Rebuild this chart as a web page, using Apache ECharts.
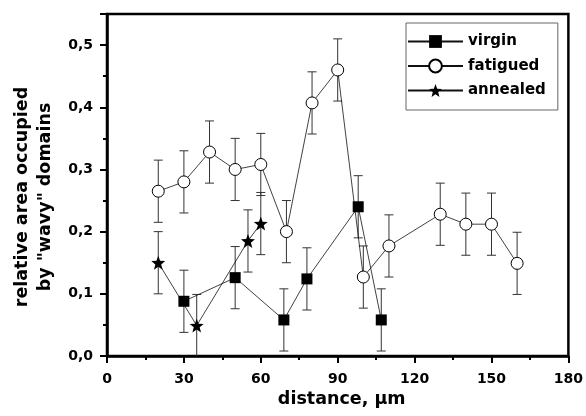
<!DOCTYPE html>
<html><head><meta charset="utf-8">
<script src="https://cdn.jsdelivr.net/npm/echarts@6/dist/echarts.min.js"></script>
<style>html,body{margin:0;padding:0;background:#fff}#c{width:586px;height:416px}</style>
</head><body><div id="c"></div>
<script>
// ---- data ----
const virginX   = [30, 50, 69, 78, 98, 107];
const virginY   = [0.088, 0.126, 0.058, 0.124, 0.240, 0.058];
const virginErr = [0.05, 0.05, 0.05, 0.05, 0.05, 0.05];

const fatiguedX   = [20, 30, 40, 50, 60, 70, 80, 90, 100, 110, 130, 140, 150, 160];
const fatiguedY   = [0.265, 0.280, 0.328, 0.300, 0.308, 0.200, 0.407, 0.460, 0.127, 0.177, 0.228, 0.212, 0.212, 0.149];
const fatiguedErr = [0.05, 0.05, 0.05, 0.05, 0.05, 0.05, 0.05, 0.05, 0.05, 0.05, 0.05, 0.05, 0.05, 0.05];

const annealedX   = [20, 35, 55, 60];
const annealedY   = [0.150, 0.049, 0.185, 0.213];
const annealedErr = [0.05, 0.05, 0.05, 0.05];

const seriesNames = ['virgin', 'fatigued', 'annealed'];
const xTicks = [0, 30, 60, 90, 120, 150, 180];
const yTicks = [0.0, 0.1, 0.2, 0.3, 0.4, 0.5];
const xTitle = 'distance, μm';
const yTitle = 'relative area occupied\nby "wavy" domains';

// ---- helpers ----
function pairs(xs, ys) { return xs.map((x, i) => [x, ys[i]]); }
function errData(xs, ys, es) { return xs.map((x, i) => [x, ys[i], es[i]]); }

function starPath() {
  let pts = [];
  for (let i = 0; i < 10; i++) {
    const r = i % 2 === 0 ? 50 : 21;
    const a = -Math.PI / 2 + i * Math.PI / 5;
    pts.push((50 + r * Math.cos(a)).toFixed(2) + ',' + (50 + r * Math.sin(a)).toFixed(2));
  }
  return 'path://M' + pts.join('L') + 'Z';
}

const FONT = '"DejaVu Sans", Verdana, sans-serif';

function errorSeries(data) {
  return {
    type: 'custom',
    silent: true,
    z: 1,
    renderItem: function (params, api) {
      const x = api.value(0), y = api.value(1), e = api.value(2);
      const hi = api.coord([x, y + e]);
      const lo = api.coord([x, y - e]);
      const cap = 4.5;
      const style = { stroke: '#333', lineWidth: 1 };
      return {
        type: 'group',
        children: [
          { type: 'line', shape: { x1: hi[0], y1: hi[1], x2: lo[0], y2: lo[1] }, style: style },
          { type: 'line', shape: { x1: hi[0] - cap, y1: hi[1], x2: hi[0] + cap, y2: hi[1] }, style: style },
          { type: 'line', shape: { x1: lo[0] - cap, y1: lo[1], x2: lo[0] + cap, y2: lo[1] }, style: style }
        ]
      };
    },
    data: data,
    encode: { x: 0, y: 1 },
    clip: true
  };
}

const chart = echarts.init(document.getElementById('c'), null, { renderer: 'canvas' });
chart.setOption({
  animation: false,
  backgroundColor: '#fff',
  grid: { left: 107, right: 16, top: 14, bottom: 60, show: true, borderColor: '#000', borderWidth: 2.5, containLabel: false },
  legend: {
    data: seriesNames,
    orient: 'vertical',
    left: 406, top: 23,
    itemWidth: 55, itemHeight: 16, itemGap: 9.5,
    padding: [11, 12, 12, 1],
    borderColor: '#666', borderWidth: 1,
    backgroundColor: '#fff',
    textStyle: { fontFamily: FONT, fontWeight: 'bold', fontSize: 15, color: '#000' }
  },
  graphic: [{
    type: 'text',
    x: 34, y: 197,
    rotation: Math.PI / 2,
    style: {
      text: yTitle,
      fontFamily: FONT, fontWeight: 'bold', fontSize: 17.5, lineHeight: 23,
      fill: '#000', align: 'center', verticalAlign: 'middle'
    }
  }],
  xAxis: {
    type: 'value', min: xTicks[0], max: xTicks[xTicks.length - 1], interval: 30,
    name: xTitle, nameLocation: 'middle', nameGap: 31,
    nameTextStyle: { fontFamily: FONT, fontWeight: 'bold', fontSize: 17.5, color: '#000', padding: [0, 0, 0, 8] },
    axisLine: { show: true, lineStyle: { color: '#000', width: 2.5 } },
    axisTick: { show: true, inside: false, length: 7, lineStyle: { color: '#000', width: 2 } },
    minorTick: { show: true, splitNumber: 2, length: 4, lineStyle: { color: '#000', width: 2 } },
    axisLabel: { fontFamily: FONT, fontWeight: 'bold', fontSize: 14, color: '#000', margin: 16 },
    splitLine: { show: false }
  },
  yAxis: {
    type: 'value', min: yTicks[0], max: 0.55, interval: 0.1,
    axisLine: { show: true, lineStyle: { color: '#000', width: 2.5 } },
    axisTick: { show: true, inside: false, length: 7, lineStyle: { color: '#000', width: 2 } },
    minorTick: { show: true, splitNumber: 2, length: 4, lineStyle: { color: '#000', width: 2 } },
    axisLabel: {
      fontFamily: FONT, fontWeight: 'bold', fontSize: 14, color: '#000', margin: 14,
      showMaxLabel: false,
      formatter: function (v) { return v > yTicks[yTicks.length - 1] + 1e-6 ? '' : v.toFixed(1).replace('.', ','); }
    },
    splitLine: { show: false }
  },
  series: [
    errorSeries(errData(virginX, virginY, virginErr)),
    errorSeries(errData(fatiguedX, fatiguedY, fatiguedErr)),
    errorSeries(errData(annealedX, annealedY, annealedErr)),
    {
      name: 'virgin', type: 'line', z: 3,
      data: pairs(virginX, virginY),
      symbol: 'rect', symbolSize: 11,
      lineStyle: { color: '#111', width: 0.8 },
      itemStyle: { color: '#000', borderColor: '#000', borderWidth: 0 }
    },
    {
      name: 'fatigued', type: 'line', z: 3,
      data: pairs(fatiguedX, fatiguedY),
      symbol: 'circle', symbolSize: 12,
      showAllSymbol: true,
      lineStyle: { color: '#111', width: 0.8 },
      itemStyle: { color: '#fff', borderColor: '#000', borderWidth: 1 }
    },
    {
      name: 'annealed', type: 'line', z: 3,
      data: pairs(annealedX, annealedY),
      symbol: starPath(), symbolSize: 14,
      lineStyle: { color: '#111', width: 0.8 },
      itemStyle: { color: '#000', borderColor: '#000', borderWidth: 0 }
    }
  ]
});
</script>
</body></html>
